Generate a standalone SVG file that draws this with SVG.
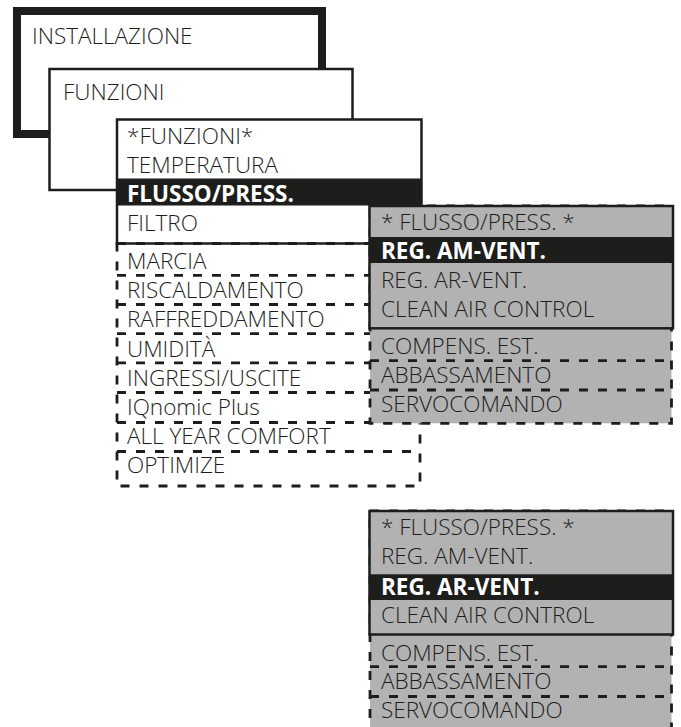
<svg xmlns="http://www.w3.org/2000/svg" width="681" height="727" viewBox="0 0 681 727">
<style>
text{font-family:"Open Sans","Liberation Sans",sans-serif;font-size:22.5px;fill:#1d1d1b;font-weight:300}
.b{font-weight:700;fill:#fff}
.box{fill:#fff;stroke:#1d1d1b;stroke-width:2.5}
.thick{fill:#fff;stroke:#1d1d1b;stroke-width:8}
.dash{fill:none;stroke:#1d1d1b;stroke-width:2.8;stroke-dasharray:9 10}
.gdash{fill:#b2b2b2;stroke:#1d1d1b;stroke-width:2.8;stroke-dasharray:9 10}
.gbox{fill:#b2b2b2;stroke:#1d1d1b;stroke-width:2.5}
.bar{fill:#1d1d1b}
</style>
<g id="installazione">
<rect class="thick" x="17" y="11" width="305" height="123"/>
<text x="32" y="44">INSTALLAZIONE</text>
</g>
<g id="funzioni">
<rect class="box" x="49.5" y="69" width="303" height="121"/>
<text x="63" y="100">FUNZIONI</text>
</g>
<g id="funzioni-menu">
<rect class="box" x="117" y="119.5" width="304.5" height="124"/>
<rect class="bar" x="117" y="178.5" width="304.5" height="27"/>
<text x="127" y="144">*FUNZIONI*</text>
<text x="127" y="172.5">TEMPERATURA</text>
<text class="b" x="127" y="202">FLUSSO/PRESS.</text>
<text x="127" y="231">FILTRO</text>
</g>
<g id="funzioni-hidden">
<rect class="dash" x="117" y="243.5" width="303" height="242.5"/>
<path class="dash" d="M117 275.3H420M117 304.5H420M117 333.7H420M117 362.9H420M117 392.5H420M117 422.5H420M117 451.5H420"/>
<text x="127" y="269">MARCIA</text>
<text x="127" y="298.2">RISCALDAMENTO</text>
<text x="127" y="327.4">RAFFREDDAMENTO</text>
<text x="127" y="356.6">UMIDITÀ</text>
<text x="127" y="385.8">INGRESSI/USCITE</text>
<text x="127" y="415">IQnomic Plus</text>
<text x="127" y="444.2">ALL YEAR COMFORT</text>
<text x="127" y="473.4">OPTIMIZE</text>
</g>
<g id="flusso-am">
<rect class="gdash" x="370" y="206" width="301.5" height="217.3"/>
<path class="dash" d="M370 360.7H671.5M370 390H671.5"/>
<rect class="gbox" x="369.5" y="206" width="303.5" height="122.3"/>
<rect class="bar" x="369.5" y="237" width="303.5" height="26"/>
<text x="381" y="230">* FLUSSO/PRESS. *</text>
<text class="b" x="381" y="259.3">REG. AM-VENT.</text>
<text x="381" y="288.3">REG. AR-VENT.</text>
<text x="381" y="317.3">CLEAN AIR CONTROL</text>
<text x="381" y="354">COMPENS. EST.</text>
<text x="381" y="382.7">ABBASSAMENTO</text>
<text x="381" y="411.7">SERVOCOMANDO</text>
</g>
<g id="flusso-ar">
<rect class="gdash" x="370" y="511" width="301.5" height="220"/>
<path class="dash" d="M370 666.7H671.5M370 696.5H671.5"/>
<rect class="gbox" x="369.5" y="511" width="303.5" height="123.5"/>
<rect class="bar" x="369.5" y="574.3" width="303.5" height="25.7"/>
<text x="381" y="535">* FLUSSO/PRESS. *</text>
<text x="381" y="564.3">REG. AM-VENT.</text>
<text class="b" x="381" y="595">REG. AR-VENT.</text>
<text x="381" y="623.3">CLEAN AIR CONTROL</text>
<text x="381" y="661">COMPENS. EST.</text>
<text x="381" y="689.3">ABBASSAMENTO</text>
<text x="381" y="718.3">SERVOCOMANDO</text>
</g>
</svg>
